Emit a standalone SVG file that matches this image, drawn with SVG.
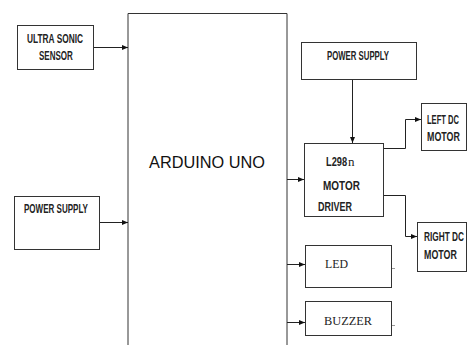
<svg xmlns="http://www.w3.org/2000/svg" width="467" height="345" viewBox="0 0 467 345">
<style>
.box{fill:#fff;stroke:#333;stroke-width:1}
.lbl{font-family:"Liberation Sans",Arial,sans-serif;font-weight:bold;font-size:12px;fill:#222}
.ser{font-family:"Liberation Serif","Times New Roman",serif;font-size:13px;fill:#222}
.wire{fill:none;stroke:#222;stroke-width:1}
</style>
<defs>
<marker id="ah" markerWidth="6" markerHeight="6" refX="6" refY="3" orient="auto" markerUnits="userSpaceOnUse">
<path d="M0,0.5 L6,3 L0,5.5 Z" fill="#111"/>
</marker>
</defs>
<rect width="467" height="345" fill="#fff"/>
<g id="arduino">
<path class="box" d="M128,350 V13.5 H287 V350"/>
<text x="207" y="168" font-family="Liberation Sans,Arial,sans-serif" font-size="17" fill="#111" text-anchor="middle" textLength="116" lengthAdjust="spacingAndGlyphs">ARDUINO UNO</text>
</g>
<g id="ultrasonic">
<rect class="box" x="17.5" y="25.5" width="76" height="44"/>
<text class="lbl" transform="translate(27,43) scale(0.695,1)">ULTRA SONIC</text>
<text class="lbl" transform="translate(39,60) scale(0.67,1)">SENSOR</text>
</g>
<g id="power-left">
<rect class="box" x="14.5" y="196.5" width="85" height="53"/>
<text class="lbl" transform="translate(24,213) scale(0.67,1)">POWER SUPPLY</text>
</g>
<g id="power-right">
<rect class="box" x="301.5" y="42.5" width="115" height="37"/>
<text class="lbl" transform="translate(327,59.5) scale(0.65,1)">POWER SUPPLY</text>
</g>
<g id="l298">
<rect class="box" x="304.5" y="143.5" width="79" height="73"/>
<text class="lbl" transform="translate(326,166) scale(0.77,1)">L298</text>
<text class="ser" x="348" y="166">n</text>
<text class="lbl" font-size="13" transform="translate(323,189.5) scale(0.83,1)">MOTOR</text>
<text class="lbl" font-size="13" transform="translate(318,211) scale(0.75,1)">DRIVER</text>
</g>
<g id="left-motor">
<rect class="box" x="421.5" y="103.5" width="45" height="47"/>
<text class="lbl" transform="translate(427,124) scale(0.63,1)">LEFT DC</text>
<text class="lbl" transform="translate(427,141) scale(0.74,1)">MOTOR</text>
</g>
<g id="right-motor">
<rect class="box" x="417.5" y="222.5" width="49" height="49"/>
<text class="lbl" transform="translate(424,241) scale(0.69,1)">RIGHT DC</text>
<text class="lbl" transform="translate(424,258.5) scale(0.74,1)">MOTOR</text>
</g>
<g id="led">
<rect class="box" x="305.5" y="245.5" width="86" height="42"/>
<text class="ser" x="325" y="268" textLength="23" lengthAdjust="spacingAndGlyphs">LED</text>
<line x1="392" y1="268.5" x2="395" y2="268.5" stroke="#999"/>
</g>
<g id="buzzer">
<rect class="box" x="305.5" y="301.5" width="86" height="34"/>
<text class="ser" x="324" y="325" textLength="48" lengthAdjust="spacingAndGlyphs">BUZZER</text>
<line x1="392" y1="325.5" x2="395" y2="325.5" stroke="#999"/>
</g>
<g id="connectors">
<line class="wire" x1="94" y1="47.5" x2="128" y2="47.5" marker-end="url(#ah)"/>
<line class="wire" x1="100" y1="222.5" x2="128" y2="222.5" marker-end="url(#ah)"/>
<line class="wire" x1="352.5" y1="80" x2="352.5" y2="143" marker-end="url(#ah)"/>
<line class="wire" x1="287" y1="179.5" x2="304" y2="179.5" marker-end="url(#ah)"/>
<path class="wire" d="M384,148.5 H405.5 V119.5 H421" marker-end="url(#ah)"/>
<path class="wire" d="M384,195.5 H405.5 V236.5 H417" marker-end="url(#ah)"/>
<line class="wire" x1="287" y1="264.5" x2="305" y2="264.5" marker-end="url(#ah)"/>
<line class="wire" x1="287" y1="322.5" x2="305" y2="322.5" marker-end="url(#ah)"/>
</g>
</svg>
